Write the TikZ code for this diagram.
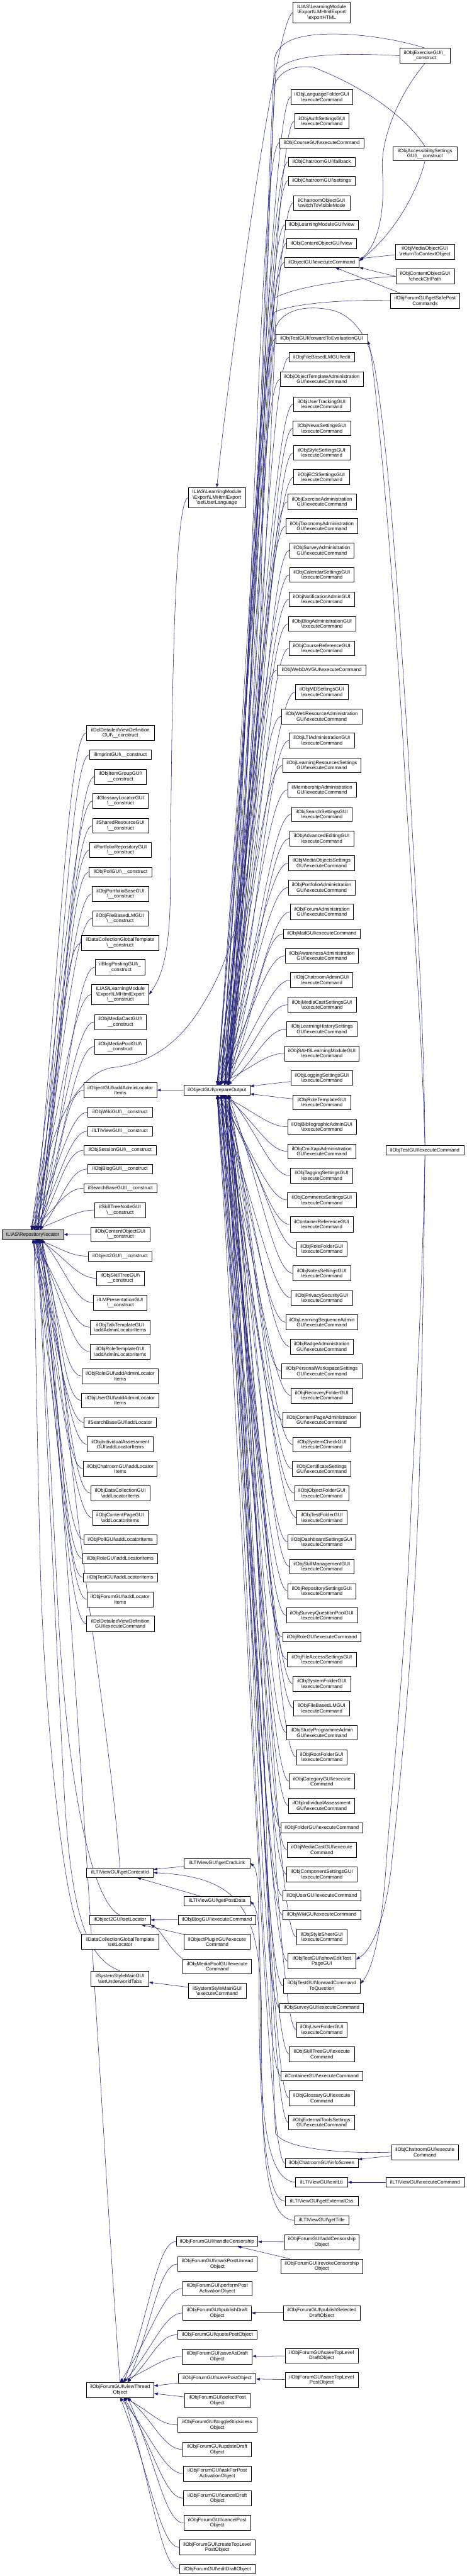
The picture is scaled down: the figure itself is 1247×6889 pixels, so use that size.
\documentclass[tikz,border=0pt]{standalone}
\usepackage{fontspec}
\setmainfont{Liberation Sans}
\usetikzlibrary{arrows.meta}
\pgfdeclarelayer{back}\pgfdeclarelayer{bg}\pgfsetlayers{back,bg,main}
\definecolor{mb}{HTML}{191970}
\newcommand{\bsl}{\textbackslash}
\newcommand{\nd}[7][box]{\node[#1,minimum width={(#5-#3)*0.5pt},minimum height={(#6-#4)*0.5pt}] (#2) at ({(#3+#5)/2},{(#4+#6)/2}) {#7};}
\newcommand{\cv}[5]{\path (#1); \pgfgetlastxy{\cvax}{\cvay}\path (#2); \pgfgetlastxy{\cvbx}{\cvby}\pgfmathsetmacro\cvh{#4*((\cvay)-(\cvby))}\pgfmathsetmacro\cvw{#4*((\cvax)-(\cvbx))+#5}\draw[edg] (#1) .. controls +(#3pt,0pt) and +(\cvw pt,\cvh pt) .. (#2);}
\begin{document}
\begin{tikzpicture}[x=0.5pt,y=-0.5pt,
 box/.style={draw=black,line width=0.5pt,fill=white,inner sep=0pt,align=center,font=\fontsize{6.6pt}{7.1pt}\selectfont},
 root/.style={box,fill=black!25},
 edg/.style={draw=mb,line width=0.45pt,-{Triangle[length=5pt,width=3.5pt]}}]
\begin{pgfonlayer}{back}\fill[white] (0,0) rectangle (1247,6889);\end{pgfonlayer}
\useasboundingbox (0,0) rectangle (1247,6889);
% C0
\nd[root]{loc}{5}{3289}{170}{3314}{ILIAS\bsl Repository\bsl locator}
% C1
\nd{ddc}{231}{1940}{412}{1980}{ilDclDetailedViewDefinition\\GUI\bsl\_\_construct}
\nd{imp}{239}{2006}{404}{2031}{ilImprintGUI\bsl\_\_construct}
\nd{itg}{253}{2057}{391}{2097}{ilObjItemGroupGUI\bsl\\\_\_construct}
\nd{glc}{248}{2122}{396}{2162}{ilGlossaryLocatorGUI\\\bsl\_\_construct}
\nd{shr}{247}{2188}{397}{2228}{ilSharedResourceGUI\\\bsl\_\_construct}
\nd{prg}{240}{2253}{404}{2293}{ilPortfolioRepositoryGUI\\\bsl\_\_construct}
\nd{plc}{238}{2319}{406}{2345}{ilObjPollGUI\bsl\_\_construct}
\nd{pbg}{246}{2370}{398}{2411}{ilObjPortfolioBaseGUI\\\bsl\_\_construct}
\nd{fblm}{247}{2436}{395}{2476}{ilObjFileBasedLMGUI\\\bsl\_\_construct}
\nd{dcgt}{218}{2501}{424}{2541}{ilDataCollectionGlobalTemplate\\\bsl\_\_construct}
\nd{bpg}{254}{2566}{388}{2607}{ilBlogPostingGUI\bsl\_\\\_construct}
\nd{lmc}{245}{2632}{398}{2687}{ILIAS\bsl LearningModule\\\bsl Export\bsl LMHtmlExport\\\bsl\_\_construct}
\nd{mcg}{252}{2713}{391}{2753}{ilObjMediaCastGUI\bsl\\\_\_construct}
\nd{mpg}{252}{2779}{390}{2819}{ilObjMediaPoolGUI\bsl\\\_\_construct}
\nd{aal}{224}{2895}{419}{2936}{ilObjectGUI\bsl addAdminLocator\\Items}
\nd{wiki}{235}{2961}{407}{2987}{ilObjWikiGUI\bsl\_\_construct}
\nd{ltic}{235}{3012}{407}{3038}{ilLTIViewGUI\bsl\_\_construct}
\nd{sess}{225}{3063}{417}{3089}{ilObjSessionGUI\bsl\_\_construct}
\nd{blog}{235}{3113}{407}{3139}{ilObjBlogGUI\bsl\_\_construct}
\nd{sbg}{224}{3165}{419}{3190}{ilSearchBaseGUI\bsl\_\_construct}
\nd{stn}{253}{3216}{389}{3256}{ilSkillTreeNodeGUI\\\bsl\_\_construct}
\nd{coc}{243}{3281}{400}{3321}{ilObjContentObjectGUI\\\bsl\_\_construct}
\nd{o2c}{236}{3347}{406}{3372}{ilObject2GUI\bsl\_\_construct}
\nd{stc}{258}{3399}{385}{3438}{ilObjSkillTreeGUI\bsl\\\_\_construct}
\nd{lmp}{250}{3464}{393}{3504}{ilLMPresentationGUI\\\bsl\_\_construct}
\nd{tta}{241}{3530}{401}{3569}{ilObjTalkTemplateGUI\\\bsl addAdminLocatorItems}
\nd{rta}{241}{3594}{401}{3635}{ilObjRoleTemplateGUI\\\bsl addAdminLocatorItems}
\nd{roa}{219}{3660}{423}{3700}{ilObjRoleGUI\bsl addAdminLocator\\Items}
\nd{usa}{218}{3725}{424}{3765}{ilObjUserGUI\bsl addAdminLocator\\Items}
\nd{sbl}{225}{3791}{417}{3817}{ilSearchBaseGUI\bsl addLocator}
\nd{iaa}{233}{3842}{410}{3883}{ilObjIndividualAssessment\\GUI\bsl addLocatorItems}
\nd{cha}{223}{3908}{420}{3948}{ilObjChatroomGUI\bsl addLocator\\Items}
\nd{dca}{242}{3973}{401}{4013}{ilObjDataCollectionGUI\\\bsl addLocatorItems}
\nd{cpa}{247}{4039}{395}{4079}{ilObjContentPageGUI\\\bsl addLocatorItems}
\nd{pol}{224}{4105}{419}{4130}{ilObjPollGUI\bsl addLocatorItems}
\nd{rol}{221}{4155}{421}{4181}{ilObjRoleGUI\bsl addLocatorItems}
\nd{tst}{222}{4206}{421}{4231}{ilObjTestGUI\bsl addLocatorItems}
\nd{fra}{232}{4257}{410}{4298}{ilObjForumGUI\bsl addLocator\\Items}
\nd{dcl}{231}{4322}{412}{4363}{ilDclDetailedViewDefinition\\GUI\bsl executeCommand}
\nd{gci}{231}{4995}{410}{5021}{ilLTIViewGUI\bsl getContextId}
\nd{o2s}{239}{5122}{402}{5147}{ilObject2GUI\bsl setLocator}
\nd{dcs}{218}{5173}{424}{5213}{ilDataCollectionGlobalTemplate\\\bsl setLocator}
\nd{sut}{243}{5271}{398}{5312}{ilSystemStyleMainGUI\\\bsl setUnderworldTabs}
\nd{vto}{231}{6371}{411}{6411}{ilObjForumGUI\bsl viewThread\\Object}
% C2
\nd{sul}{503}{1304}{656}{1358}{ILIAS\bsl LearningModule\\\bsl Export\bsl LMHtmlExport\\\bsl setUserLanguage}
\nd{po}{492}{2902}{668}{2928}{ilObjectGUI\bsl prepareOutput}
\nd{gcl}{492}{4970}{668}{4995}{ilLTIViewGUI\bsl getCmdLink}
\nd{gpd}{491}{5071}{669}{5097}{ilLTIViewGUI\bsl getPostData}
\nd{bge}{476}{5121}{684}{5147}{ilObjBlogGUI\bsl executeCommand}
\nd{ope}{492}{5173}{668}{5213}{ilObjectPluginGUI\bsl execute\\Command}
\nd{mpe}{489}{5239}{672}{5279}{ilObjMediaPoolGUI\bsl execute\\Command}
\nd{sse}{503}{5304}{658}{5344}{ilSystemStyleMainGUI\\\bsl executeCommand}
\nd{hc}{471}{5982}{689}{6007}{ilObjForumGUI\bsl handleCensorship}
\nd{mpu}{475}{6035}{687}{6074}{ilObjForumGUI\bsl markPostUnread\\Object}
\nd{ppa}{488}{6100}{673}{6140}{ilObjForumGUI\bsl performPost\\ActivationObject}
\nd{pdo}{489}{6166}{672}{6205}{ilObjForumGUI\bsl publishDraft\\Object}
\nd{qpo}{475}{6231}{687}{6256}{ilObjForumGUI\bsl quotePostObject}
\nd{sad}{487}{6282}{674}{6322}{ilObjForumGUI\bsl saveAsDraft\\Object}
\nd{spo}{477}{6348}{684}{6373}{ilObjForumGUI\bsl savePostObject}
\nd{sel}{493}{6400}{668}{6439}{ilObjForumGUI\bsl selectPost\\Object}
\nd{tso}{475}{6465}{686}{6505}{ilObjForumGUI\bsl toggleStickiness\\Object}
\nd{udo}{489}{6531}{672}{6570}{ilObjForumGUI\bsl updateDraft\\Object}
\nd{afp}{490}{6595}{671}{6635}{ilObjForumGUI\bsl askForPost\\ActivationObject}
\nd{cdo}{490}{6661}{671}{6701}{ilObjForumGUI\bsl cancelDraft\\Object}
\nd{cpo}{491}{6727}{670}{6767}{ilObjForumGUI\bsl cancelPost\\Object}
\nd{ctl}{479}{6792}{682}{6832}{ilObjForumGUI\bsl createTopLevel\\PostObject}
\nd{edo}{480}{6858}{681}{6883}{ilObjForumGUI\bsl editDraftObject}
% C3
\nd{ehtml}{783}{6}{936}{61}{ILIAS\bsl LearningModule\\\bsl Export\bsl LMHtmlExport\\\bsl exportHTML}
\nd{lfe}{778}{239}{942}{279}{ilObjLanguageFolderGUI\\\bsl executeCommand}
\nd{ase}{787}{304}{933}{344}{ilObjAuthSettingsGUI\\\bsl executeCommand}
\nd{cre}{747}{370}{972}{395}{ilObjCourseGUI\bsl executeCommand}
\nd{cfb}{770}{421}{949}{445}{ilObjChatroomGUI\bsl fallback}
\nd{cst}{770}{471}{949}{496}{ilObjChatroomGUI\bsl settings}
\nd{svm}{784}{523}{935}{562}{ilChatroomObjectGUI\\\bsl switchToVisibleMode}
\nd{lmv}{762}{589}{957}{614}{ilObjLearningModuleGUI\bsl view}
\nd{cov}{766}{638}{953}{664}{ilObjContentObjectGUI\bsl view}
\nd{oge}{760}{689}{960}{715}{ilObjectGUI\bsl executeCommand}
\nd{fte}{737}{893}{982}{918}{ilObjTestGUI\bsl forwardToEvaluationGUI}
\nd{fbe}{773}{943}{947}{968}{ilObjFileBasedLMGUI\bsl edit}
\nd{ota}{749}{994}{971}{1034}{ilObjObjectTemplateAdministration\\GUI\bsl executeCommand}
\nd{utr}{784}{1061}{935}{1100}{ilObjUserTrackingGUI\\\bsl executeCommand}
\nd{nws}{783}{1126}{937}{1165}{ilObjNewsSettingsGUI\\\bsl executeCommand}
\nd{sty}{784}{1191}{935}{1230}{ilObjStyleSettingsGUI\\\bsl executeCommand}
\nd{ecs}{785}{1256}{934}{1296}{ilObjECSSettingsGUI\\\bsl executeCommand}
\nd{exa}{769}{1321}{952}{1362}{ilObjExerciseAdministration\\GUI\bsl executeCommand}
\nd{txa}{764}{1387}{956}{1427}{ilObjTaxonomyAdministration\\GUI\bsl executeCommand}
\nd{sva}{774}{1452}{946}{1492}{ilObjSurveyAdministration\\GUI\bsl executeCommand}
\nd{cal}{774}{1517}{946}{1557}{ilObjCalendarSettingsGUI\\\bsl executeCommand}
\nd{nta}{773}{1583}{947}{1622}{ilObjNotificationAdminGUI\\\bsl executeCommand}
\nd{bla}{770}{1648}{951}{1688}{ilObjBlogAdministrationGUI\\\bsl executeCommand}
\nd{crf}{773}{1714}{947}{1753}{ilObjCourseReferenceGUI\\\bsl executeCommand}
\nd{wdv}{741}{1779}{978}{1805}{ilObjWebDAVGUI\bsl executeCommand}
\nd{mds}{789}{1830}{931}{1871}{ilObjMDSettingsGUI\\\bsl executeCommand}
\nd{wra}{752}{1896}{967}{1936}{ilObjWebResourceAdministration\\GUI\bsl executeCommand}
\nd{lti}{773}{1960}{947}{2000}{ilObjLTIAdministrationGUI\\\bsl executeCommand}
\nd{lrs}{756}{2027}{964}{2066}{ilObjLearningResourcesSettings\\GUI\bsl executeCommand}
\nd{mba}{769}{2092}{952}{2132}{ilMembershipAdministration\\GUI\bsl executeCommand}
\nd{srs}{779}{2158}{941}{2197}{ilObjSearchSettingsGUI\\\bsl executeCommand}
\nd{aed}{774}{2223}{945}{2262}{ilObjAdvancedEditingGUI\\\bsl executeCommand}
\nd{mos}{771}{2288}{948}{2328}{ilObjMediaObjectsSettings\\GUI\bsl executeCommand}
\nd{pfa}{770}{2353}{949}{2394}{ilObjPortfolioAdministration\\GUI\bsl executeCommand}
\nd{foa}{776}{2418}{944}{2459}{ilObjForumAdministration\\GUI\bsl executeCommand}
\nd{mai}{757}{2485}{963}{2510}{ilObjMailGUI\bsl executeCommand}
\nd{awa}{762}{2536}{958}{2576}{ilObjAwarenessAdministration\\GUI\bsl executeCommand}
\nd{cha2}{776}{2601}{943}{2641}{ilObjChatroomAdminGUI\\\bsl executeCommand}
\nd{mcs}{769}{2667}{952}{2707}{ilObjMediaCastSettingsGUI\\\bsl executeCommand}
\nd{lhs}{766}{2732}{954}{2772}{ilObjLearningHistorySettings\\GUI\bsl executeCommand}
\nd{sah}{760}{2797}{960}{2837}{ilObjSAHSLearningModuleGUI\\\bsl executeCommand}
\nd{lgs}{777}{2863}{943}{2902}{ilObjLoggingSettingsGUI\\\bsl executeCommand}
\nd{rtm}{783}{2928}{937}{2968}{ilObjRoleTemplateGUI\\\bsl executeCommand}
\nd{bib}{769}{2994}{952}{3033}{ilObjBibliographicAdminGUI\\\bsl executeCommand}
\nd{cmx}{769}{3059}{951}{3099}{ilObjCmiXapiAdministration\\GUI\bsl executeCommand}
\nd{tag}{776}{3124}{943}{3164}{ilObjTaggingSettingsGUI\\\bsl executeCommand}
\nd{cms}{768}{3189}{952}{3229}{ilObjCommentsSettingsGUI\\\bsl executeCommand}
\nd{crg}{775}{3254}{944}{3295}{ilContainerReferenceGUI\\\bsl executeCommand}
\nd{rfg}{793}{3320}{927}{3360}{ilObjRoleFolderGUI\\\bsl executeCommand}
\nd{nts}{783}{3385}{937}{3425}{ilObjNotesSettingsGUI\\\bsl executeCommand}
\nd{prv}{778}{3451}{942}{3490}{ilObjPrivacySecurityGUI\\\bsl executeCommand}
\nd{lsa}{764}{3516}{956}{3556}{ilObjLearningSequenceAdmin\\GUI\bsl executeCommand}
\nd{bdg}{775}{3581}{944}{3621}{ilObjBadgeAdministration\\GUI\bsl executeCommand}
\nd{pws}{753}{3647}{967}{3687}{ilObjPersonalWorkspaceSettings\\GUI\bsl executeCommand}
\nd{rcf}{778}{3712}{942}{3752}{ilObjRecoveryFolderGUI\\\bsl executeCommand}
\nd{cpg}{756}{3777}{963}{3817}{ilObjContentPageAdministration\\GUI\bsl executeCommand}
\nd{syc}{783}{3843}{937}{3883}{ilObjSystemCheckGUI\\\bsl executeCommand}
\nd{cer}{781}{3908}{938}{3948}{ilObjCertificateSettings\\GUI\bsl executeCommand}
\nd{ofg}{787}{3973}{933}{4013}{ilObjObjectFolderGUI\\\bsl executeCommand}
\nd{tfg}{793}{4039}{927}{4078}{ilObjTestFolderGUI\\\bsl executeCommand}
\nd{dsh}{769}{4104}{951}{4143}{ilObjDashboardSettingsGUI\\\bsl executeCommand}
\nd{skm}{774}{4169}{946}{4209}{ilObjSkillManagementGUI\\\bsl executeCommand}
\nd{rps}{769}{4235}{951}{4275}{ilObjRepositorySettingsGUI\\\bsl executeCommand}
\nd{sqp}{765}{4300}{955}{4340}{ilObjSurveyQuestionPoolGUI\\\bsl executeCommand}
\nd{rle}{755}{4365}{965}{4391}{ilObjRoleGUI\bsl executeCommand}
\nd{fas}{767}{4418}{953}{4457}{ilObjFileAccessSettingsGUI\\\bsl executeCommand}
\nd{sfg}{783}{4483}{937}{4523}{ilObjSystemFolderGUI\\\bsl executeCommand}
\nd{fbx}{785}{4548}{934}{4588}{ilObjFileBasedLMGUI\\\bsl executeCommand}
\nd{spa}{766}{4614}{954}{4653}{ilObjStudyProgrammeAdmin\\GUI\bsl executeCommand}
\nd{rfd}{792}{4679}{928}{4719}{ilObjRootFolderGUI\\\bsl executeCommand}
\nd{cat}{773}{4744}{947}{4784}{ilObjCategoryGUI\bsl execute\\Command}
\nd{iax}{771}{4809}{948}{4849}{ilObjIndividualAssessment\\GUI\bsl executeCommand}
\nd{fld}{751}{4875}{969}{4901}{ilObjFolderGUI\bsl executeCommand}
\nd{mce}{767}{4927}{953}{4967}{ilObjMediaCastGUI\bsl execute\\Command}
\nd{cps}{766}{4992}{954}{5032}{ilObjComponentSettingsGUI\\\bsl executeCommand}
\nd{use}{755}{5057}{965}{5083}{ilObjUserGUI\bsl executeCommand}
\nd{wke}{756}{5108}{964}{5134}{ilObjWikiGUI\bsl executeCommand}
\nd{ssh}{792}{5159}{928}{5200}{ilObjStyleSheetGUI\\\bsl executeCommand}
\nd{set}{769}{5224}{951}{5265}{ilObjTestGUI\bsl showEditTest\\PageGUI}
\nd{fcq}{757}{5291}{963}{5331}{ilObjTestGUI\bsl forwardCommand\\ToQuestion}
\nd{sve}{748}{5357}{971}{5382}{ilObjSurveyGUI\bsl executeCommand}
\nd{ufg}{792}{5408}{928}{5448}{ilObjUserFolderGUI\\\bsl executeCommand}
\nd{ste}{773}{5473}{947}{5513}{ilObjSkillTreeGUI\bsl execute\\Command}
\nd{cge}{751}{5539}{969}{5564}{ilContainerGUI\bsl executeCommand}
\nd{gle}{773}{5591}{947}{5631}{ilObjGlossaryGUI\bsl execute\\Command}
\nd{ets}{771}{5656}{948}{5696}{ilObjExternalToolsSettings\\GUI\bsl executeCommand}
\nd{cis}{762}{5773}{957}{5797}{ilObjChatroomGUI\bsl infoScreen}
\nd{elt}{790}{5823}{929}{5849}{ilLTIViewGUI\bsl exitLti}
\nd{gec}{762}{5874}{957}{5899}{ilLTIViewGUI\bsl getExternalCss}
\nd{gtt}{787}{5925}{933}{5950}{ilLTIViewGUI\bsl getTitle}
\nd{aco}{760}{5976}{960}{6016}{ilObjForumGUI\bsl addCensorship\\Object}
\nd{rco}{751}{6041}{969}{6081}{ilObjForumGUI\bsl revokeCensorship\\Object}
\nd{psd}{757}{6166}{963}{6205}{ilObjForumGUI\bsl publishSelected\\DraftObject}
\nd{tld}{762}{6280}{957}{6319}{ilObjForumGUI\bsl saveTopLevel\\DraftObject}
\nd{tlp}{762}{6345}{957}{6385}{ilObjForumGUI\bsl saveTopLevel\\PostObject}
% C4
\nd{exc}{1068}{129}{1203}{169}{ilObjExerciseGUI\bsl\_\\\_construct}
\nd{acc}{1050}{392}{1221}{430}{ilObjAccessibilitySettings\\GUI\bsl\_\_construct}
\nd{mor}{1056}{653}{1215}{693}{ilObjMediaObjectGUI\\\bsl returnToContextObject}
\nd{ccp}{1058}{719}{1214}{759}{ilObjContentObjectGUI\\\bsl checkCtrlPath}
\nd{gsp}{1043}{784}{1229}{824}{ilObjForumGUI\bsl getSafePost\\Commands}
\nd{tge}{1031}{3064}{1240}{3089}{ilObjTestGUI\bsl executeCommand}
\nd{cx4}{1046}{5735}{1225}{5776}{ilObjChatroomGUI\bsl execute\\Command}
\nd{lte}{1031}{5823}{1241}{5849}{ilLTIViewGUI\bsl executeCommand}

\begin{pgfonlayer}{bg}
% C3 -> prepareOutput
\foreach \n [count=\i] in {lfe,ase,cre,cfb,cst,svm,lmv,cov,oge,fte,fbe,ota,utr,nws,sty,ecs,exa,txa,sva,cal,nta,bla,crf,wdv,mds,wra,lti,lrs,mba,srs,aed,mos,pfa,foa,mai,awa,cha2,mcs,lhs,sah}
 {\pgfmathtruncatemacro\s{mod(\i,4)*5}\cv{\n.west}{[xshift=\s*1pt]po.north}{-25}{0.5}{0}}
\foreach \n [count=\i] in {bib,cmx,tag,cms,crg,rfg,nts,prv,lsa,bdg,pws,rcf,cpg,syc,cer,ofg,tfg,dsh,skm,rps,sqp,rle,fas,sfg,fbx,spa,rfd,cat,iax,fld,mce,cps,use,wke,ssh,set,fcq,sve,ufg,ste,cge,gle,ets,cis}
 {\pgfmathtruncatemacro\s{mod(\i,4)*5}\cv{\n.west}{[xshift=\s*1pt]po.south}{-25}{0.5}{0}}
\draw[edg] (lgs) -- (po);
\draw[edg] (rtm) -- (po);
% C1 -> locator
\foreach \n [count=\i] in {ddc,imp,itg,glc,shr,prg,plc,pbg,fblm,dcgt,bpg,lmc,mcg,mpg,aal,wiki,ltic,sess,blog,sbg,stn}
 {\pgfmathtruncatemacro\s{mod(\i,4)*4-2}\cv{\n.west}{[xshift=\s*1pt]loc.north}{-25}{0.45}{0}}
\foreach \n [count=\i] in {o2c,stc,lmp,tta,rta,roa,usa,sbl,iaa,cha,dca,cpa,pol,rol,tst,fra,dcl}
 {\pgfmathtruncatemacro\s{mod(\i,4)*4}\cv{\n.west}{[xshift=\s*1pt]loc.south}{-25}{0.45}{0}}
\draw[edg] (coc) -- (loc);
\draw[edg] (gci.north) .. controls (300,4700) and (220,4200) .. (190,3900) .. controls (160,3550) and (115,3400) .. ([xshift=10pt]loc.south);
\draw[edg] (o2s.north) .. controls (250,5090) and (175,4800) .. (150,4200) .. controls (130,3800) and (105,3420) .. ([xshift=8pt]loc.south);
\draw[edg] (dcs.north west) .. controls (170,5100) and (120,4600) .. (108,4200) .. controls (98,3800) and (92,3420) .. ([xshift=2pt]loc.south);
\draw[edg] (sut.north) .. controls (225,5235) and (190,5100) .. (172,4800) .. controls (145,4300) and (110,3500) .. ([xshift=6pt]loc.south);
\draw[edg] (vto.north) .. controls (290,6000) and (200,4300) .. ([xshift=12pt]loc.south);
% C2 -> C1
\draw[edg] (po) -- (aal);
\draw[edg] (bge) -- (o2s);
\draw[edg] (ope) -- (o2s);
\draw[edg] (mpe.north west) .. controls (450,5210) and (430,5160) .. (o2s.south east);
\draw[edg] (sse) -- (sut);
\draw[edg] (gcl) -- (gci);
\draw[edg] (gpd) -- (gci);
\draw[edg] (sul.west) .. controls (462,1340) and (458,2000) .. (455,2400) .. controls (452,2560) and (430,2615) .. (lmc.east);
\foreach \n [count=\i] in {hc,mpu,ppa,pdo,qpo,sad}
 {\pgfmathtruncatemacro\s{mod(\i,3)*5}\cv{\n.west}{[xshift=\s*1pt]vto.north}{-25}{0.5}{0}}
\draw[edg] (spo) -- (vto);
\draw[edg] (sel) -- (vto);
\foreach \n [count=\i] in {tso,udo,afp,cdo,cpo,ctl,edo}
 {\pgfmathtruncatemacro\s{mod(\i,3)*5}\cv{\n.west}{[xshift=\s*1pt]vto.south}{-25}{0.5}{0}}
% C3 -> C2
\draw[edg] (ehtml.west) .. controls (735,50) and (610,1000) .. (sul.north);
\draw[edg] (aco) -- (hc);
\draw[edg] (rco) -- (hc);
\draw[edg] (psd) -- (pdo);
\draw[edg] (tld) -- (sad);
\draw[edg] (tlp) -- (spo);
\draw[edg] (elt.west) .. controls (700,5830) and (695,5600) .. (695,5300) .. controls (695,5150) and (690,5110) .. (gpd.east);
\draw[edg] (gec.west) .. controls (705,5886) and (692,5600) .. (692,5300) .. controls (692,5050) and (690,5000) .. (gcl.east);
\draw[edg] (gtt.west) .. controls (700,5937) and (699,5700) .. (699,5400) .. controls (699,5100) and (640,5020) .. (gci.east);
% C4 edges
\draw[edg] (exc.south) .. controls (1060,260) and (1015,380) .. (1022,460) .. controls (1030,600) and (1000,660) .. ([yshift=2pt]oge.east);
\draw[edg] (acc.south) .. controls (1120,500) and (1060,620) .. ([yshift=2pt]oge.east);
\draw[edg] (mor) -- (oge);
\draw[edg] (ccp.west) -- (oge.south east);
\draw[edg] ([xshift=13pt]gsp.north west) -- ([xshift=18pt]oge.south);
\draw[edg] (exc.west) .. controls (900,140) and (760,145) .. (737,195) .. controls (705,700) and (700,1700) .. (689,2000) .. controls (675,2400) and (610,2580) .. (540,2689) .. controls (480,2790) and (400,2845) .. (300,2855) .. controls (200,2870) and (110,3050) .. ([xshift=8pt]loc.north);
\draw[edg] (exc.north) .. controls (1030,95) and (880,80) .. (800,100) .. controls (760,110) and (740,130) .. (734,155) .. controls (700,800) and (660,2500) .. ([xshift=10pt]po.north);
\draw[edg] (acc.north) .. controls (1090,320) and (990,240) .. (838,180) .. controls (780,172) and (745,195) .. (734,226) .. controls (700,900) and (660,2500) .. ([xshift=12pt]po.north);
\draw[edg] (ccp.west) .. controls (950,745) and (790,765) .. (734,797) .. controls (700,1200) and (660,2500) .. ([xshift=14pt]po.north);
\draw[edg] (gsp.west) .. controls (900,800) and (770,815) .. (734,835) .. controls (700,1300) and (660,2500) .. ([xshift=16pt]po.north);
\draw[edg] (tge.north) .. controls (1133,2700) and (1110,2400) .. (1090,2000) .. controls (1060,1500) and (1030,1150) .. (1004,1000) .. controls (995,930) and (960,850) .. (890,830) .. controls (800,810) and (745,840) .. (736,880) .. controls (715,1400) and (660,2600) .. ([xshift=14pt]po.north);
\draw[edg] (tge.north) .. controls (1125,2700) and (1100,2400) .. (1078,2000) .. controls (1048,1500) and (1015,1150) .. (998,1000) .. controls (992,950) and (988,925) .. ([yshift=-3pt]fte.east);
\draw[edg] (tge.south) .. controls (1133,3400) and (1125,3800) .. (1119,4000) .. controls (1100,4500) and (1060,4850) .. (1045,5000) .. controls (1030,5120) and (1000,5210) .. ([yshift=2pt]set.east);
\draw[edg] (tge.south) .. controls (1130,3400) and (1110,3800) .. (1100,4000) .. controls (1080,4500) and (1040,4850) .. (1031,5000) .. controls (1020,5150) and (1000,5260) .. ([yshift=3pt]fcq.east);
\draw[edg] (cx4) -- (cis);
\draw[edg] (cx4.west) .. controls (900,5760) and (760,5745) .. (736,5705) .. controls (710,5000) and (690,3500) .. ([xshift=12pt]po.south);
\draw[edg] (lte) -- (elt);
\end{pgfonlayer}
\end{tikzpicture}
\end{document}
